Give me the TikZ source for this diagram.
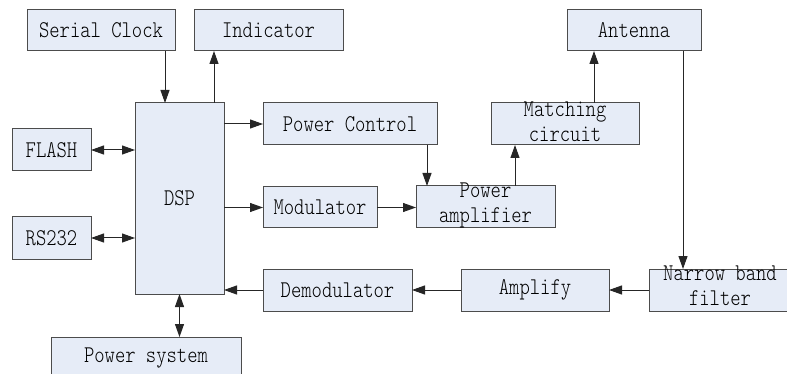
\documentclass[tikz,border=0pt]{standalone}
\usepackage{fontspec}
\newfontfamily\boxfont[FakeStretch=0.82]{lmmonolt10-regular.otf}
\usetikzlibrary{arrows.meta}
\definecolor{boxfill}{HTML}{E6ECF7}

\begin{document}
\begin{tikzpicture}[x=1pt, y=-1pt,
    block/.style={draw=black!70, line width=1pt, fill=boxfill, inner sep=0pt, outer sep=0pt,
        font=\boxfont\fontsize{24}{25}\selectfont},
    txt/.style={align=center, inner sep=0pt, font=\boxfont\fontsize{24}{25}\selectfont},
    link/.style={draw=black!85, line width=1pt, -{Triangle[length=13pt,width=9pt]}},
    both/.style={link, {Triangle[length=13pt,width=9pt]}-{Triangle[length=13pt,width=9pt]}}]

        % 1. Page size
        \useasboundingbox (0,0) rectangle (787,374);

        % 2. Blocks placed at their centres
        \node[block, minimum width=148, minimum height=41] (clock) at (101,30.5) {Serial Clock};
        \node[block, minimum width=149, minimum height=41] (ind) at (268.5,30.5) {Indicator};
        \node[block, minimum width=89, minimum height=191] (dsp) at (179.5,198.5) {DSP};
        \node[block, minimum width=79, minimum height=42] (flash) at (51.5,150) {FLASH};
        \node[block, minimum width=79, minimum height=42] (rs) at (51.5,238) {RS232};
        \node[block, minimum width=174, minimum height=42] (pc) at (350,124) {Power Control};
        \node[block, minimum width=114, minimum height=41] (mod) at (320,207.5) {Modulator};
        \node[block, minimum width=149, minimum height=42] (dem) at (337.5,290) {Demodulator};
        \node[block, minimum width=190, minimum height=42] (psys) at (146,358) {Power system};
        \node[block, minimum width=139, minimum height=42] (pa) at (485.5,207) {};
        \node[txt] at ([yshift=2]pa) {Power\\amplifier};
        \node[block, minimum width=148, minimum height=42] (match) at (565,124) {};
        \node[txt] at ([yshift=2]match) {Matching\\circuit};
        \node[block, minimum width=134, minimum height=41] (ant) at (634,30.5) {Antenna};
        \node[block, minimum width=148, minimum height=42] (amp) at (535,290) {Amplify};
        \node[block, minimum width=142, minimum height=42] (nbf) at (720,290) {};
        \node[txt] at ([yshift=4]nbf) {Narrow band\\filter};

        % 3. DSP side connections
        \draw[link] ([xshift=-10]clock.south east) -- ([xshift=-10]clock.south east |- dsp.north);
        \draw[link] ([xshift=-10]dsp.north east) -- ([xshift=-10]dsp.north east |- ind.south);
        \draw[link] (dsp.east |- pc.west) -- (pc.west);
        \draw[link] (dsp.east |- mod.west) -- (mod.west);
        \draw[link] (dem.west) -- (dem.west -| dsp.east);
        \draw[both] (flash.east) -- (flash.east -| dsp.west);
        \draw[both] (rs.east) -- (rs.east -| dsp.west);
        \draw[both] (dsp.south) -- (dsp.south |- psys.north);

        % 4. Transmit chain
        \draw[link] (mod.east) -- (mod.east -| pa.west);
        \draw[link] ([xshift=-10]pc.south east) -- ([xshift=-10]pc.south east |- pa.north);
        \draw[link] ([xshift=24]match.south west |- pa.north) -- ([xshift=24]match.south west);
        \draw[link] ([xshift=27]ant.south west |- match.north) -- ([xshift=27]ant.south west);

        % 5. Receive chain
        \draw[link] ([xshift=-18]ant.south east) -- ([xshift=-18]ant.south east |- nbf.north);
        \draw[link] (nbf.west) -- (amp.east);
        \draw[link] (amp.west) -- (dem.east);

    \end{tikzpicture}
\end{document}
